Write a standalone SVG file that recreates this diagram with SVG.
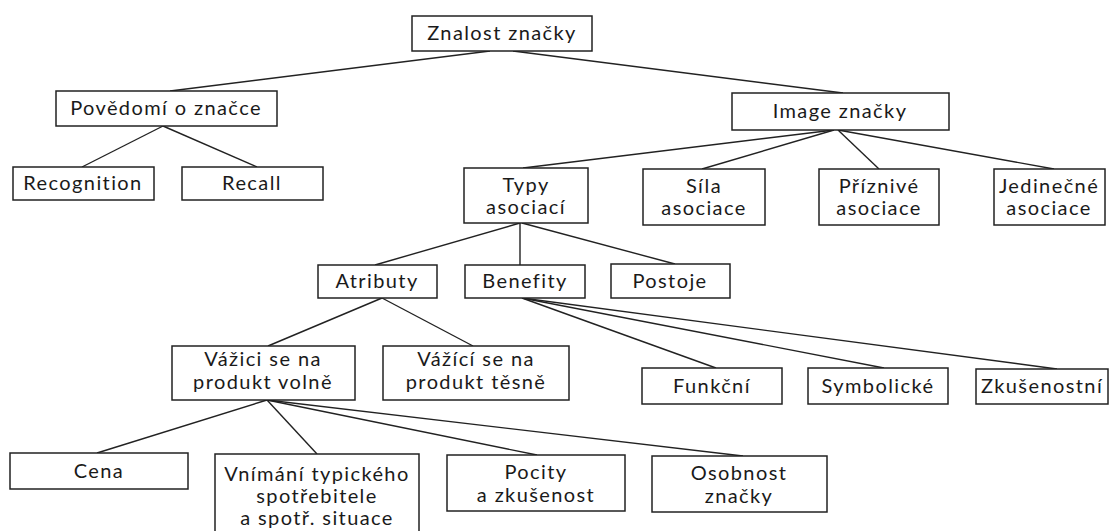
<svg xmlns="http://www.w3.org/2000/svg" width="1112" height="531" viewBox="0 0 1112 531">
<style>
rect{fill:#fff;stroke:#222;stroke-width:1.5}
line{stroke:#222;stroke-width:1.4}
text{font-family:Lato,"Open Sans","Liberation Sans",sans-serif;font-size:20px;fill:#1a1a1a;text-anchor:middle;letter-spacing:1.4px}
</style>
<rect x="0" y="0" width="1112" height="531" style="stroke:none"/>
<g id="connectors">
<line x1="490" y1="51" x2="170" y2="91"/>
<line x1="513" y1="51" x2="843" y2="93"/>
<line x1="163" y1="126" x2="82" y2="167"/>
<line x1="163" y1="126" x2="257" y2="167"/>
<line x1="834" y1="130" x2="523" y2="168"/>
<line x1="834" y1="130" x2="702" y2="169"/>
<line x1="838" y1="130" x2="879" y2="169"/>
<line x1="838" y1="130" x2="1054" y2="169"/>
<line x1="520" y1="223" x2="375" y2="265"/>
<line x1="520" y1="223" x2="520" y2="265"/>
<line x1="522" y1="223" x2="675" y2="264"/>
<line x1="522" y1="298" x2="716" y2="368"/>
<line x1="522" y1="298" x2="884" y2="368"/>
<line x1="522" y1="298" x2="1057" y2="369"/>
<line x1="382" y1="298" x2="268" y2="346"/>
<line x1="382" y1="298" x2="473" y2="346"/>
<line x1="267" y1="400" x2="97" y2="453"/>
<line x1="267" y1="400" x2="317" y2="454"/>
<line x1="267" y1="400" x2="537" y2="455"/>
<line x1="267" y1="400" x2="743" y2="456"/>
</g>
<g id="znalost"><rect x="412" y="16" width="180" height="35"/><text x="502" y="40">Znalost značky</text></g>
<g id="povedomi"><rect x="56" y="91" width="221" height="35"/><text x="166" y="115">Povědomí o značce</text></g>
<g id="image"><rect x="732" y="93" width="217" height="37"/><text x="840" y="118">Image značky</text></g>
<g id="recognition"><rect x="13" y="167" width="141" height="33"/><text x="83" y="190">Recognition</text></g>
<g id="recall"><rect x="182" y="167" width="141" height="33"/><text x="252" y="190">Recall</text></g>
<g id="typy"><rect x="464" y="168" width="124" height="55"/><text x="526" y="192">Typy</text><text x="526" y="214">asociací</text></g>
<g id="sila"><rect x="643" y="169" width="122" height="56"/><text x="704" y="193">Síla</text><text x="704" y="215">asociace</text></g>
<g id="priznive"><rect x="819" y="169" width="120" height="56"/><text x="879" y="193">Příznivé</text><text x="879" y="215">asociace</text></g>
<g id="jedinecne"><rect x="994" y="169" width="111" height="56"/><text x="1049" y="193">Jedinečné</text><text x="1049" y="215">asociace</text></g>
<g id="atributy"><rect x="318" y="265" width="119" height="33"/><text x="377" y="288">Atributy</text></g>
<g id="benefity"><rect x="465" y="265" width="120" height="33"/><text x="525" y="288">Benefity</text></g>
<g id="postoje"><rect x="611" y="264" width="119" height="34"/><text x="670" y="288">Postoje</text></g>
<g id="vazici-volne"><rect x="172" y="346" width="183" height="54"/><text x="263" y="366">Vážici se na</text><text x="263" y="389">produkt volně</text></g>
<g id="vazici-tesne"><rect x="383" y="346" width="186" height="54"/><text x="476" y="366">Vážící se na</text><text x="476" y="389">produkt těsně</text></g>
<g id="funkcni"><rect x="642" y="368" width="140" height="36"/><text x="712" y="393">Funkční</text></g>
<g id="symbolicke"><rect x="808" y="368" width="140" height="36"/><text x="878" y="393">Symbolické</text></g>
<g id="zkusenostni"><rect x="976" y="369" width="132" height="35"/><text x="1042" y="393">Zkušenostní</text></g>
<g id="cena"><rect x="10" y="453" width="178" height="36"/><text x="99" y="478">Cena</text></g>
<g id="vnimani"><rect x="215" y="454" width="204" height="100"/><text x="317" y="481">Vnímání typického</text><text x="317" y="503">spotřebitele</text><text x="317" y="525">a spotř. situace</text></g>
<g id="pocity"><rect x="447" y="455" width="178" height="56"/><text x="536" y="479">Pocity</text><text x="536" y="502">a zkušenost</text></g>
<g id="osobnost"><rect x="652" y="456" width="175" height="56"/><text x="739" y="480">Osobnost</text><text x="739" y="503">značky</text></g>
</svg>
